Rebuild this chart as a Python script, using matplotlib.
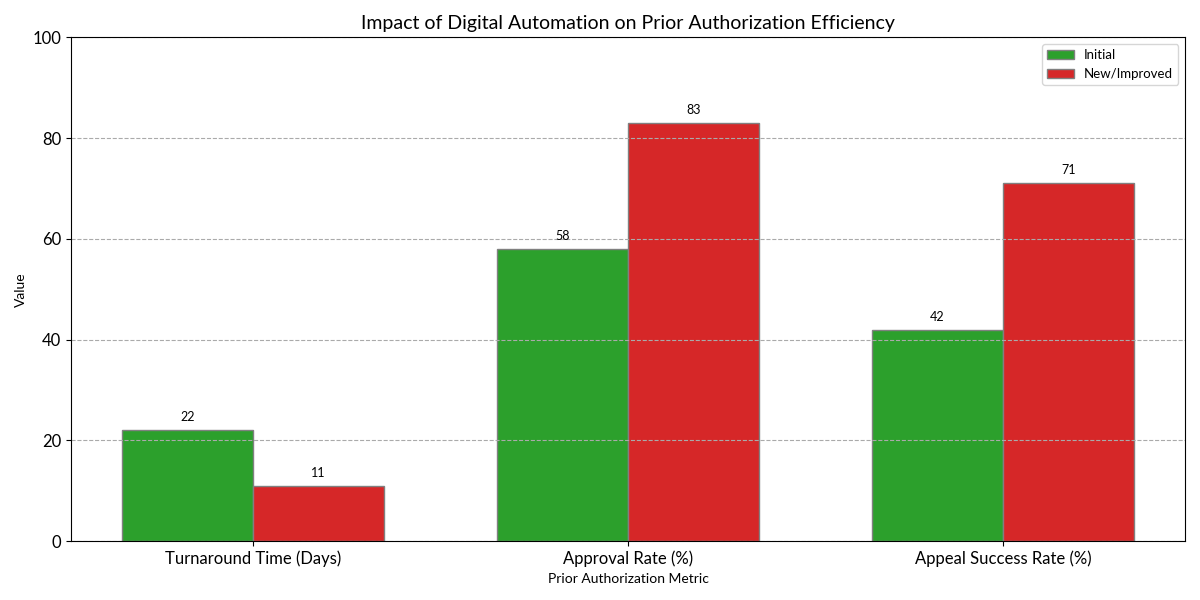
import numpy as np
import matplotlib
matplotlib.use('Agg')
import matplotlib.pyplot as plt

plt.rcParams['font.family'] = ['Lato', 'DejaVu Sans']

# Data
metrics = ['Turnaround Time (Days)', 'Approval Rate (%)', 'Appeal Success Rate (%)']
initial = [22, 58, 42]
improved = [11, 83, 71]

x = np.arange(len(metrics))
width = 0.35

fig, ax = plt.subplots(figsize=(12, 6), dpi=100)
bars1 = ax.bar(x - width / 2, initial, width, label='Initial', color='#2ca02c', edgecolor='grey')
bars2 = ax.bar(x + width / 2, improved, width, label='New/Improved', color='#d62728', edgecolor='grey')

# value labels on top of bars
for bars in (bars1, bars2):
    for b in bars:
        h = b.get_height()
        ax.annotate(f'{h}', xy=(b.get_x() + b.get_width() / 2, h), xytext=(0, 5),
                    textcoords='offset points', ha='center', va='bottom', fontsize=9)

ax.set_title('Impact of Digital Automation on Prior Authorization Efficiency', fontsize=14)
ax.set_xlabel('Prior Authorization Metric', fontsize=10)
ax.set_ylabel('Value', fontsize=10)
ax.set_xticks(x)
ax.set_xticklabels(metrics, fontsize=12)
ax.tick_params(axis='y', labelsize=12)
ax.set_ylim(0, 100)
ax.yaxis.grid(True, linestyle='--', color='#aaaaaa')
ax.legend(fontsize=9.5)

plt.tight_layout()
plt.savefig('out.png')
